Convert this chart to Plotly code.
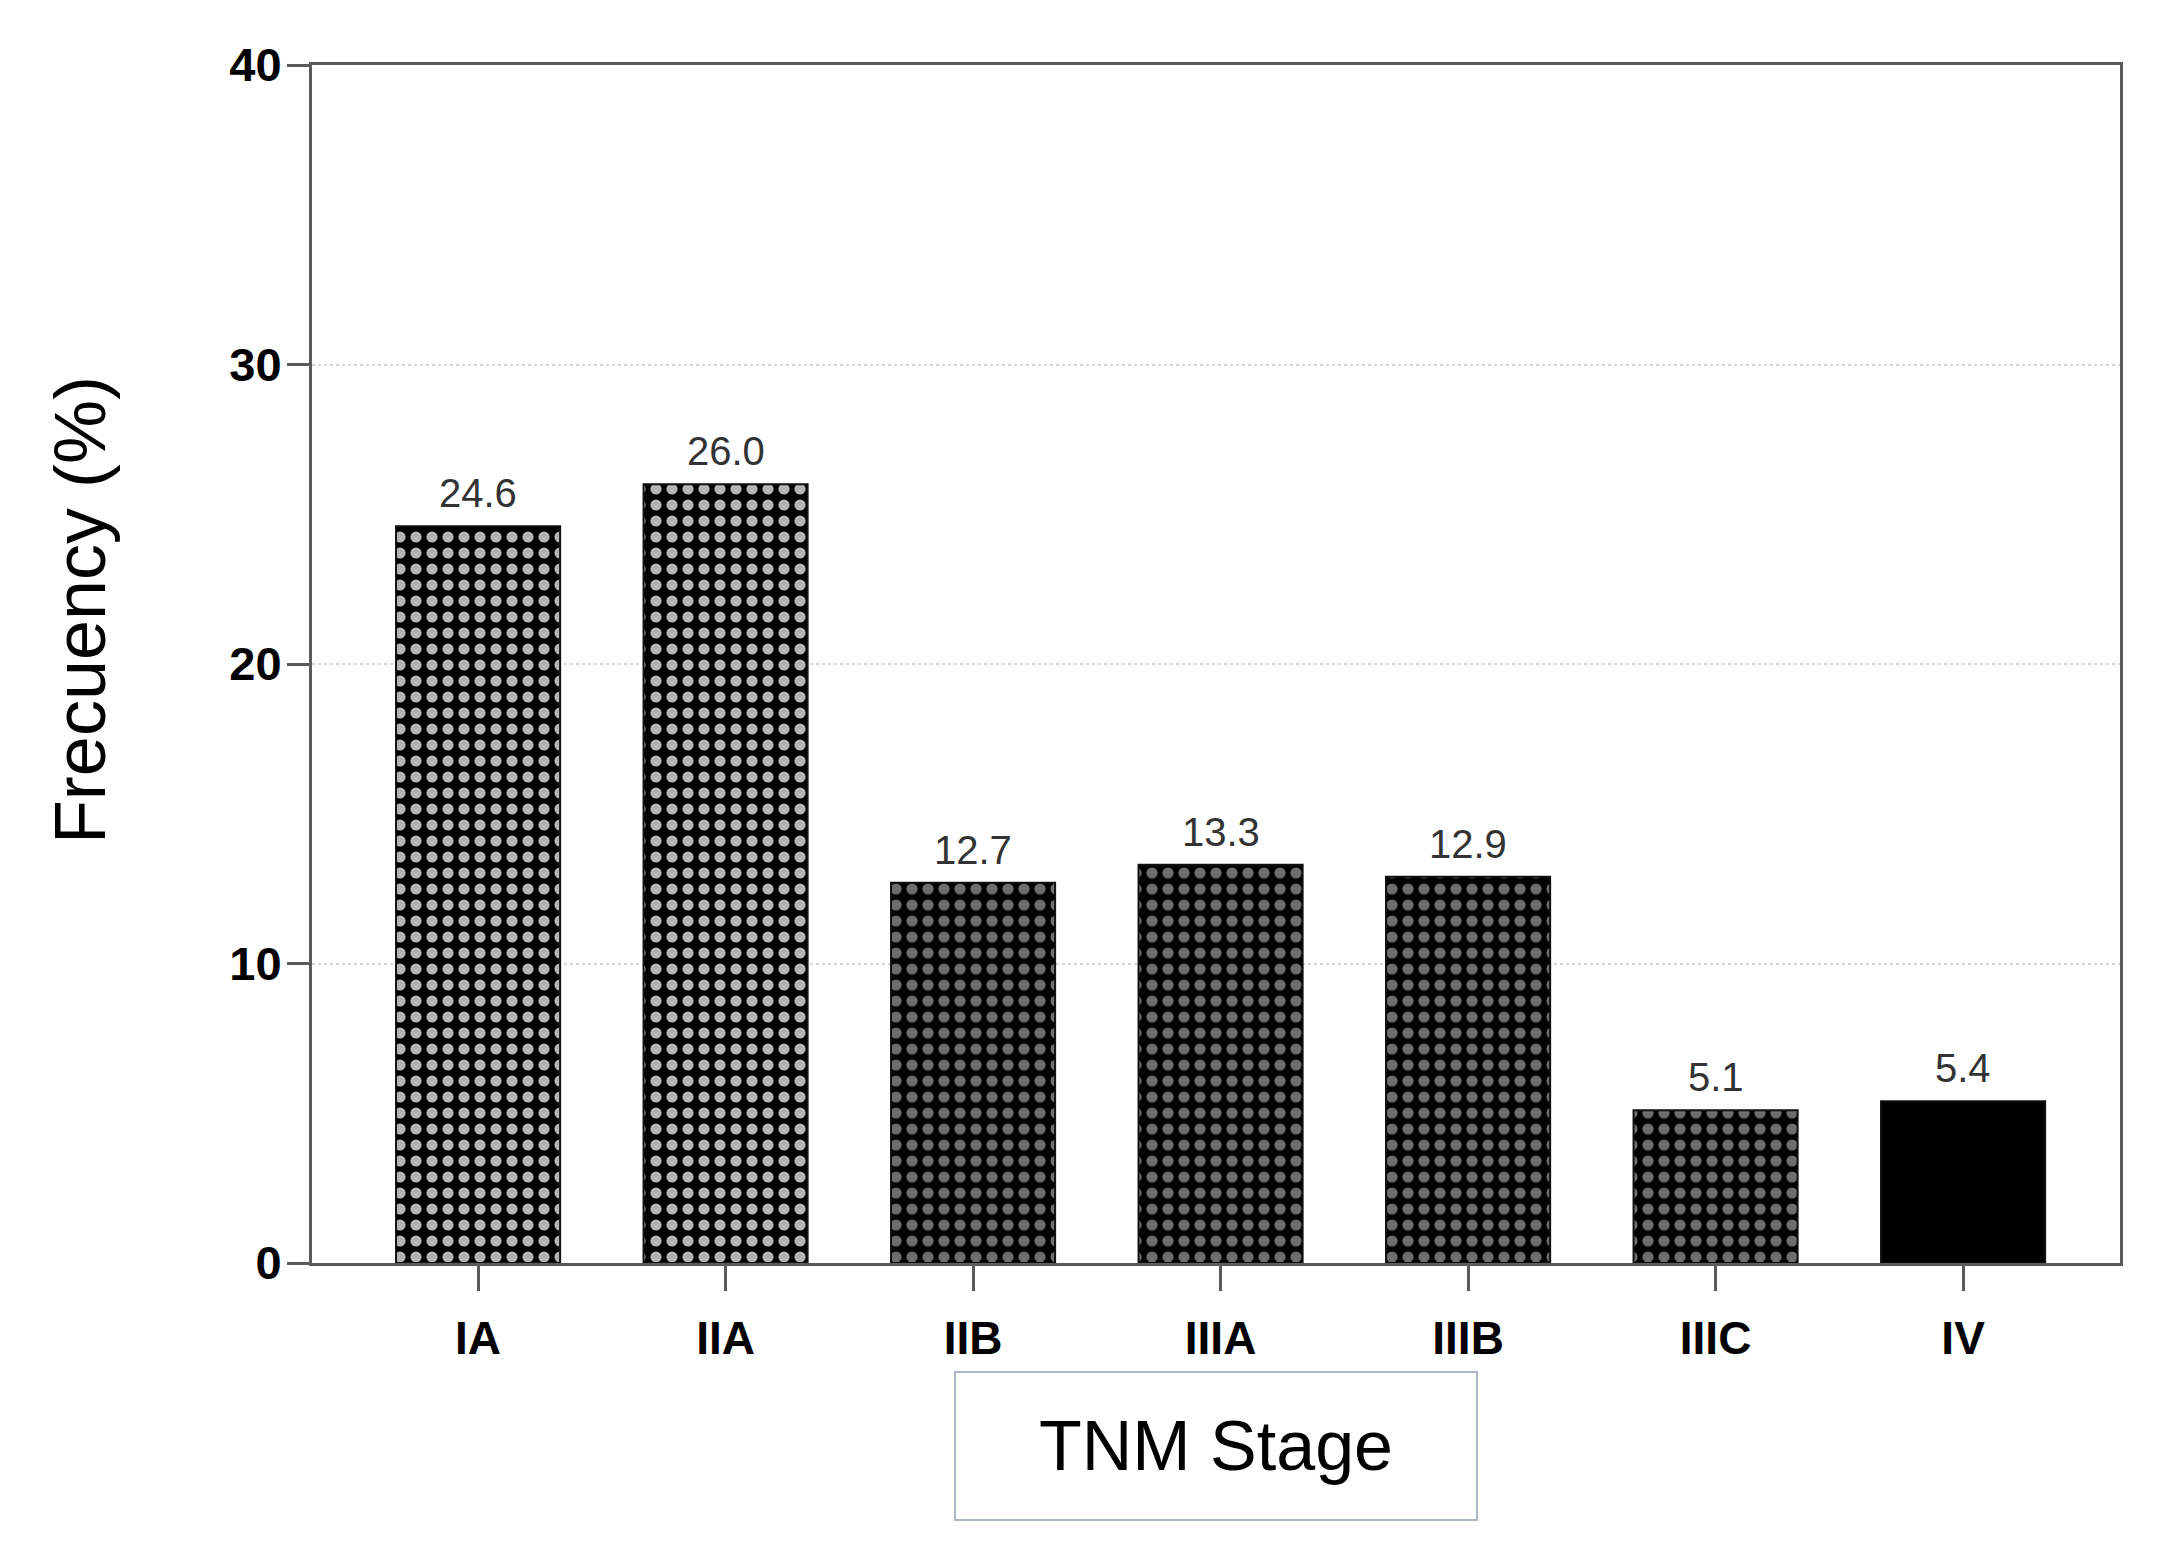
import plotly.graph_objects as go

# data
stages = ["IA", "IIA", "IIB", "IIIA", "IIIB", "IIIC", "IV"]
frequency = [24.6, 26.0, 12.7, 13.3, 12.9, 5.1, 5.4]
y_ticks = [0, 10, 20, 30, 40]

# per-bar fill style (checker-like dots on black, last bar solid)
dot_shape = [".", ".", ".", ".", ".", ".", ""]
dot_color = ["#b4b4b4", "#b4b4b4", "#6e6e6e", "#6e6e6e", "#6e6e6e", "#6e6e6e", "#000000"]

# page body has an 8px margin, so the figure is a bit smaller than the window
W, H = 2153, 1542
L, R, T, B = 304, 41, 57, 287

FONT = "Liberation Sans, Arial"

fig = go.Figure()

fig.add_trace(go.Bar(
    x=stages,
    y=frequency,
    width=0.663,
    marker=dict(
        color="black",
        line=dict(color="#111111", width=2),
        pattern=dict(
            shape=dot_shape,
            fgcolor=dot_color,
            bgcolor="black",
            size=16,
            solidity=0.38,
            fillmode="replace",
        ),
    ),
    showlegend=False,
))

# value labels above the bars
for s, v in zip(stages, frequency):
    fig.add_annotation(
        x=s, y=v,
        text=f"{v:.1f}",
        yanchor="bottom",
        yshift=9,
        showarrow=False,
        font=dict(family=FONT, size=40, color="#333333"),
    )

fig.update_layout(
    width=W,
    height=H,
    margin=dict(l=L, r=R, t=T, b=B, pad=0),
    paper_bgcolor="white",
    plot_bgcolor="white",
    font=dict(family=FONT, color="black"),
    xaxis=dict(
        range=[-0.671, 6.634],
        showline=True,
        linecolor="#5a5a5a",
        linewidth=3,
        mirror=True,
        ticks="outside",
        ticklen=25,
        tickwidth=3,
        tickcolor="#5a5a5a",
        tickfont=dict(family=FONT, size=46, color="black", weight="bold"),
        ticklabelstandoff=8,
        showgrid=False,
        zeroline=False,
    ),
    yaxis=dict(
        range=[0, 40],
        tickvals=y_ticks,
        showline=True,
        linecolor="#5a5a5a",
        linewidth=3,
        mirror=True,
        ticks="outside",
        ticklen=22,
        tickwidth=3,
        tickcolor="#5a5a5a",
        tickfont=dict(family=FONT, size=47, color="black", weight="bold"),
        ticklabelstandoff=-4,
        showgrid=True,
        gridcolor="#d6d6d6",
        gridwidth=2,
        griddash="dot",
        zeroline=False,
    ),
)

# y axis title
fig.add_annotation(
    text="Frecuency (%)",
    xref="paper", yref="paper",
    x=-0.1283, y=0.545,
    xanchor="center", yanchor="middle",
    textangle=-90,
    showarrow=False,
    font=dict(family=FONT, size=72, color="black"),
)

# boxed x axis title
fig.add_annotation(
    text="TNM Stage",
    xref="paper", yref="paper",
    x=0.5, y=-0.153,
    xanchor="center", yanchor="middle",
    width=520, height=146,
    align="center", valign="middle",
    bordercolor="#aeb6c4",
    borderwidth=2,
    borderpad=0,
    bgcolor="white",
    showarrow=False,
    font=dict(family=FONT, size=70, color="black"),
)

fig.write_html("out.html")
